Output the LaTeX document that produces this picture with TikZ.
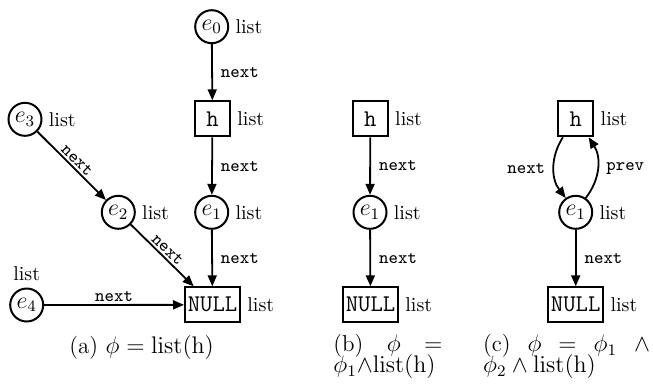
\documentclass[tikz,border=0pt]{standalone}
\usetikzlibrary{arrows.meta}
\begin{document}
\begin{tikzpicture}[x=0.5pt,y=-0.5pt,
  every label/.style={font=\fontsize{10}{12}\selectfont, inner sep=3pt},
  cnode/.style={circle, draw, line width=1pt, minimum size=16.5pt, inner sep=0pt, font=\fontsize{12}{14}\selectfont},
  bnode/.style={rectangle, draw, line width=1pt, minimum height=17.5pt, minimum width=17.5pt, inner sep=1pt, font=\fontsize{12}{14}\selectfont\ttfamily},
  conn/.style={line width=0.9pt, -{Triangle[length=5.5pt,width=4.5pt]}},
  elab/.style={font=\fontsize{9}{11}\selectfont\ttfamily, inner sep=4pt},
  capt/.style={font=\fontsize{11.5}{13}\selectfont, inner sep=0pt}]
\useasboundingbox (0,0) rectangle (653,387);
% (a)
\node[cnode, label=right:list] (a0) at (211.7,26.7) {$e_0$};
\node[bnode, label=right:list] (ah) at (212.5,118.8) {h};
\node[cnode, label=right:list] (a1) at (211.7,212.3) {$e_1$};
\node[cnode, label=right:list] (a2) at (118.3,212.3) {$e_2$};
\node[cnode, label=right:list] (a3) at (25,119.3) {$e_3$};
\node[cnode, label=above:list] (a4) at (26.7,305) {$e_4$};
\node[bnode, minimum width=27.5pt, label=right:list] (an) at (212.5,304.8) {NULL};
\draw[conn] (a0) -- node[elab, right] {next} (ah);
\draw[conn] (ah) -- node[elab, right] {next} (a1);
\draw[conn] (a1) -- node[elab, right] {next} (an);
\draw[conn] (a3) -- node[elab, above, sloped, inner sep=1pt] {next} (a2);
\draw[conn] (a2) -- node[elab, above, sloped, inner sep=1pt] {next} (an);
\draw[conn] (a4) -- node[elab, above, inner sep=1pt] {next} (an);
\node[capt, anchor=base] (capa) at (141.7,353) {(a) $\phi = \mathrm{list}(\mathrm{h})$};
% (b)
\node[bnode, label=right:list] (bh) at (370.3,118.8) {h};
\node[cnode, label=right:list] (b1) at (370,212.3) {$e_1$};
\node[bnode, minimum width=27.5pt, label=right:list] (bn) at (370.5,304.8) {NULL};
\draw[conn] (bh) -- node[elab, right] {next} (b1);
\draw[conn] (b1) -- node[elab, right] {next} (bn);
\node[capt, anchor=base west] (capb1) at (333,351.5) {\hbox to 54.5pt{(b)\hfill$\phi$\hfill$=$}};
\node[capt, anchor=base west] (capb2) at (333,372.5) {$\phi_1{\wedge}\mathrm{list}(\mathrm{h})$};
% (c)
\node[bnode, label=right:list] (ch) at (575.8,118.8) {h};
\node[cnode, label=right:list] (c1) at (575.7,212.3) {$e_1$};
\node[bnode, minimum width=27.5pt, label=right:list] (cn) at (575.7,304.8) {NULL};
\draw[conn] (ch) to[bend right=35] node[elab, left] {next} (c1);
\draw[conn] (c1) to[bend right=35] node[elab, right] {prev} (ch);
\draw[conn] (c1) -- node[elab, right] {next} (cn);
\node[capt, anchor=base west] (capc1) at (482.7,351.5) {\hbox to 83.5pt{(c)\hfill$\phi$\hfill$=$\hfill$\phi_1$\hfill$\wedge$}};
\node[capt, anchor=base west] (capc2) at (482.7,372.5) {$\phi_2 \wedge \mathrm{list}(\mathrm{h})$};
\end{tikzpicture}
\end{document}
